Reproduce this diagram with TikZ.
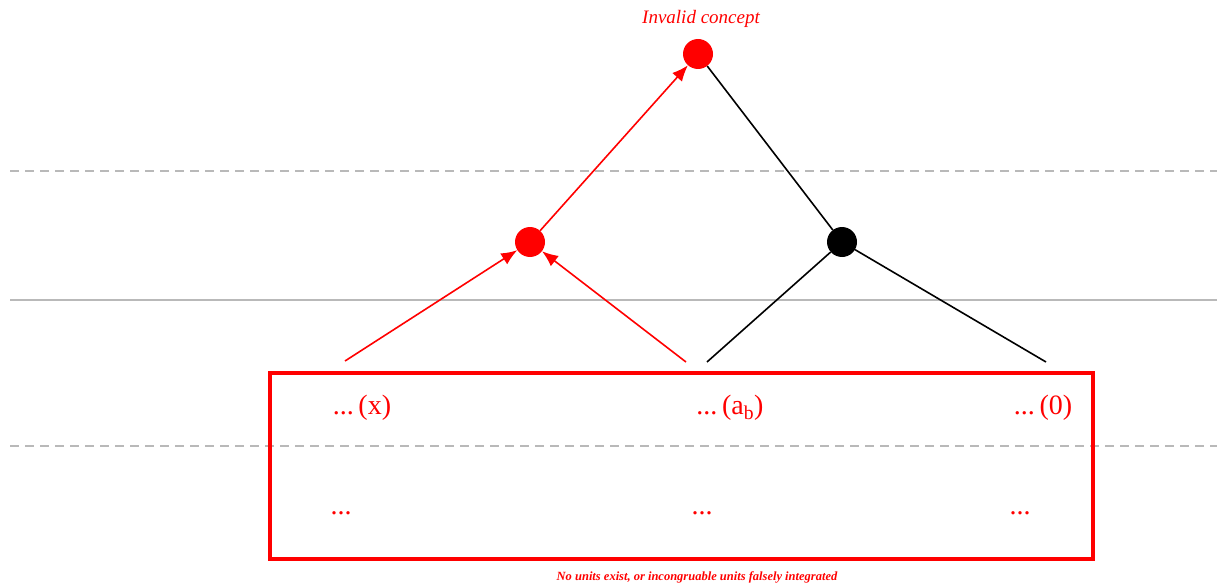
\documentclass[tikz,border=0pt]{standalone}
\usepackage{fontspec}
\setmainfont{Liberation Serif}
\usetikzlibrary{arrows.meta}
\definecolor{rd}{RGB}{255,0,0}
\definecolor{gl}{RGB}{185,185,185}
\begin{document}
\begin{tikzpicture}[x=1pt,y=-1pt,
  dot/.style={circle,fill=#1,inner sep=0pt,minimum size=30pt},
  redarrow/.style={rd,line width=1.6pt,-{Latex[length=16pt,width=13pt]}},
  blackline/.style={black,line width=1.6pt},
  guide/.style={gl,line width=1.8pt},
  lbl/.style={text=rd,font=\fontsize{28}{30}\selectfont,inner sep=0pt,anchor=base},
  ]
\useasboundingbox (0,0) rectangle (1217,588);
\draw[guide,dash pattern=on 9pt off 6pt] (10,171) -- (1217,171);
\draw[guide] (10,300) -- (1217,300);
\draw[guide,dash pattern=on 9pt off 6pt] (10,446) -- (1217,446);

\node[dot=rd] (top) at (698,54) {};
\node[dot=rd] (mid) at (530,242) {};
\node[dot=black] (blk) at (842,242) {};

\node[text=rd,font=\itshape\fontsize{19}{21}\selectfont] (title) at (701,19) {Invalid concept};

\draw[rd,line width=4.5pt] (270,373) rectangle (1093,559);

\coordinate (s1) at (345,361);
\coordinate (s2) at (686,362);
\coordinate (s3) at (707,362);
\coordinate (s4) at (1046,362);

\draw[redarrow] (mid) -- (top);
\draw[blackline] (top) -- (blk);
\draw[redarrow] (s1) -- (mid);
\draw[redarrow] (s2) -- (mid);
\draw[blackline] (s3) -- (blk);
\draw[blackline] (s4) -- (blk);

\node[lbl] (l1) at (362,414) {...\,(x)};
\node[lbl] (l2) at (730,414) {...\,(a\textsubscript{b})};
\node[lbl] (l3) at (1043,414) {...\,(0)};
\node[lbl] (d1) at (341,514) {...};
\node[lbl] (d2) at (702,514) {...};
\node[lbl] (d3) at (1020,514) {...};

\node[text=rd,font=\bfseries\itshape\fontsize{12.5}{14}\selectfont] (cap) at (697,577) {No units exist, or incongruable units falsely integrated};
\end{tikzpicture}
\end{document}
